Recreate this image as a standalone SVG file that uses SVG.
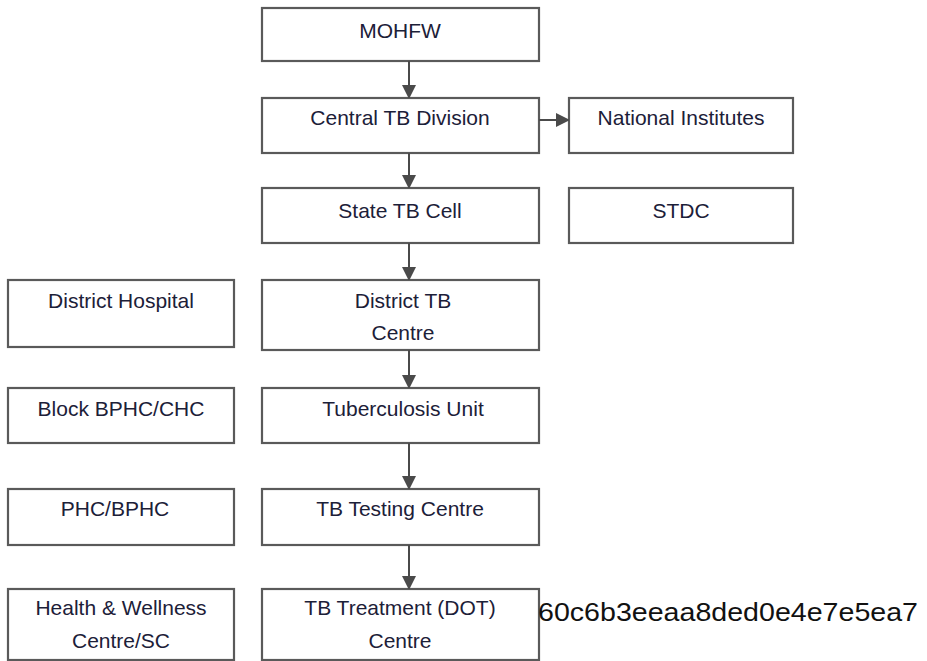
<svg xmlns="http://www.w3.org/2000/svg" width="927" height="661" viewBox="0 0 927 661">
  <defs>
    <marker id="arrow" viewBox="0 0 12 14" refX="13" refY="7" markerWidth="12" markerHeight="14" markerUnits="userSpaceOnUse" orient="auto">
      <path d="M0,0 L14,7 L0,14 Z" fill="#4a4a4a"/>
    </marker>
    <style>
      .box { fill: #ffffff; stroke: #5a5a5a; stroke-width: 2.2; }
      .lbl { font-family: "Liberation Sans", Arial, sans-serif; font-size: 21px; fill: #1c2038; text-anchor: middle; }
      .edge { stroke: #4a4a4a; stroke-width: 2; fill: none; marker-end: url(#arrow); }
      .code { font-family: "Liberation Sans", Arial, sans-serif; font-size: 26px; fill: #111111; }
    </style>
  </defs>

  <rect width="927" height="661" fill="#ffffff"/>

  <!-- main chain, centre column -->
  <g id="mohfw">
    <rect class="box" x="262" y="8" width="277" height="53"/>
    <text class="lbl" x="400" y="38">MOHFW</text>
  </g>
  <g id="central-tb-division">
    <rect class="box" x="262" y="98" width="277" height="55"/>
    <text class="lbl" x="400" y="125">Central TB Division</text>
  </g>
  <g id="state-tb-cell">
    <rect class="box" x="262" y="188" width="277" height="55"/>
    <text class="lbl" x="400" y="218">State TB Cell</text>
  </g>
  <g id="district-tb-centre">
    <rect class="box" x="262" y="280" width="277" height="70"/>
    <text class="lbl" x="403" y="308">District TB</text>
    <text class="lbl" x="403" y="340">Centre</text>
  </g>
  <g id="tuberculosis-unit">
    <rect class="box" x="262" y="388" width="277" height="55"/>
    <text class="lbl" x="403" y="416">Tuberculosis Unit</text>
  </g>
  <g id="tb-testing-centre">
    <rect class="box" x="262" y="489" width="277" height="56"/>
    <text class="lbl" x="400" y="516">TB Testing Centre</text>
  </g>
  <g id="tb-treatment-centre">
    <rect class="box" x="262" y="589" width="277" height="71"/>
    <text class="lbl" x="400" y="615">TB Treatment (DOT)</text>
    <text class="lbl" x="400" y="648">Centre</text>
  </g>

  <!-- right column -->
  <g id="national-institutes">
    <rect class="box" x="569" y="98" width="224" height="55"/>
    <text class="lbl" x="681" y="125">National Institutes</text>
  </g>
  <g id="stdc">
    <rect class="box" x="569" y="188" width="224" height="55"/>
    <text class="lbl" x="681" y="218">STDC</text>
  </g>

  <!-- left column -->
  <g id="district-hospital">
    <rect class="box" x="8" y="280" width="226" height="67"/>
    <text class="lbl" x="121" y="308">District Hospital</text>
  </g>
  <g id="block-bphc-chc">
    <rect class="box" x="8" y="388" width="226" height="55"/>
    <text class="lbl" x="121" y="416">Block BPHC/CHC</text>
  </g>
  <g id="phc-bphc">
    <rect class="box" x="8" y="489" width="226" height="56"/>
    <text class="lbl" x="115" y="516">PHC/BPHC</text>
  </g>
  <g id="health-wellness-centre">
    <rect class="box" x="8" y="589" width="226" height="71"/>
    <text class="lbl" x="121" y="615">Health &amp; Wellness</text>
    <text class="lbl" x="121" y="648">Centre/SC</text>
  </g>

  <!-- connectors -->
  <g id="connectors">
    <line class="edge" x1="409" y1="61" x2="409" y2="98"/>
    <line class="edge" x1="409" y1="153" x2="409" y2="188"/>
    <line class="edge" x1="409" y1="243" x2="409" y2="280"/>
    <line class="edge" x1="409" y1="350" x2="409" y2="388"/>
    <line class="edge" x1="409" y1="443" x2="409" y2="489"/>
    <line class="edge" x1="409" y1="545" x2="409" y2="589"/>
    <line class="edge" x1="539" y1="120" x2="569" y2="120"/>
  </g>

  <text class="code" x="538" y="621" textLength="380" lengthAdjust="spacingAndGlyphs">60c6b3eeaa8ded0e4e7e5ea7</text>
</svg>
